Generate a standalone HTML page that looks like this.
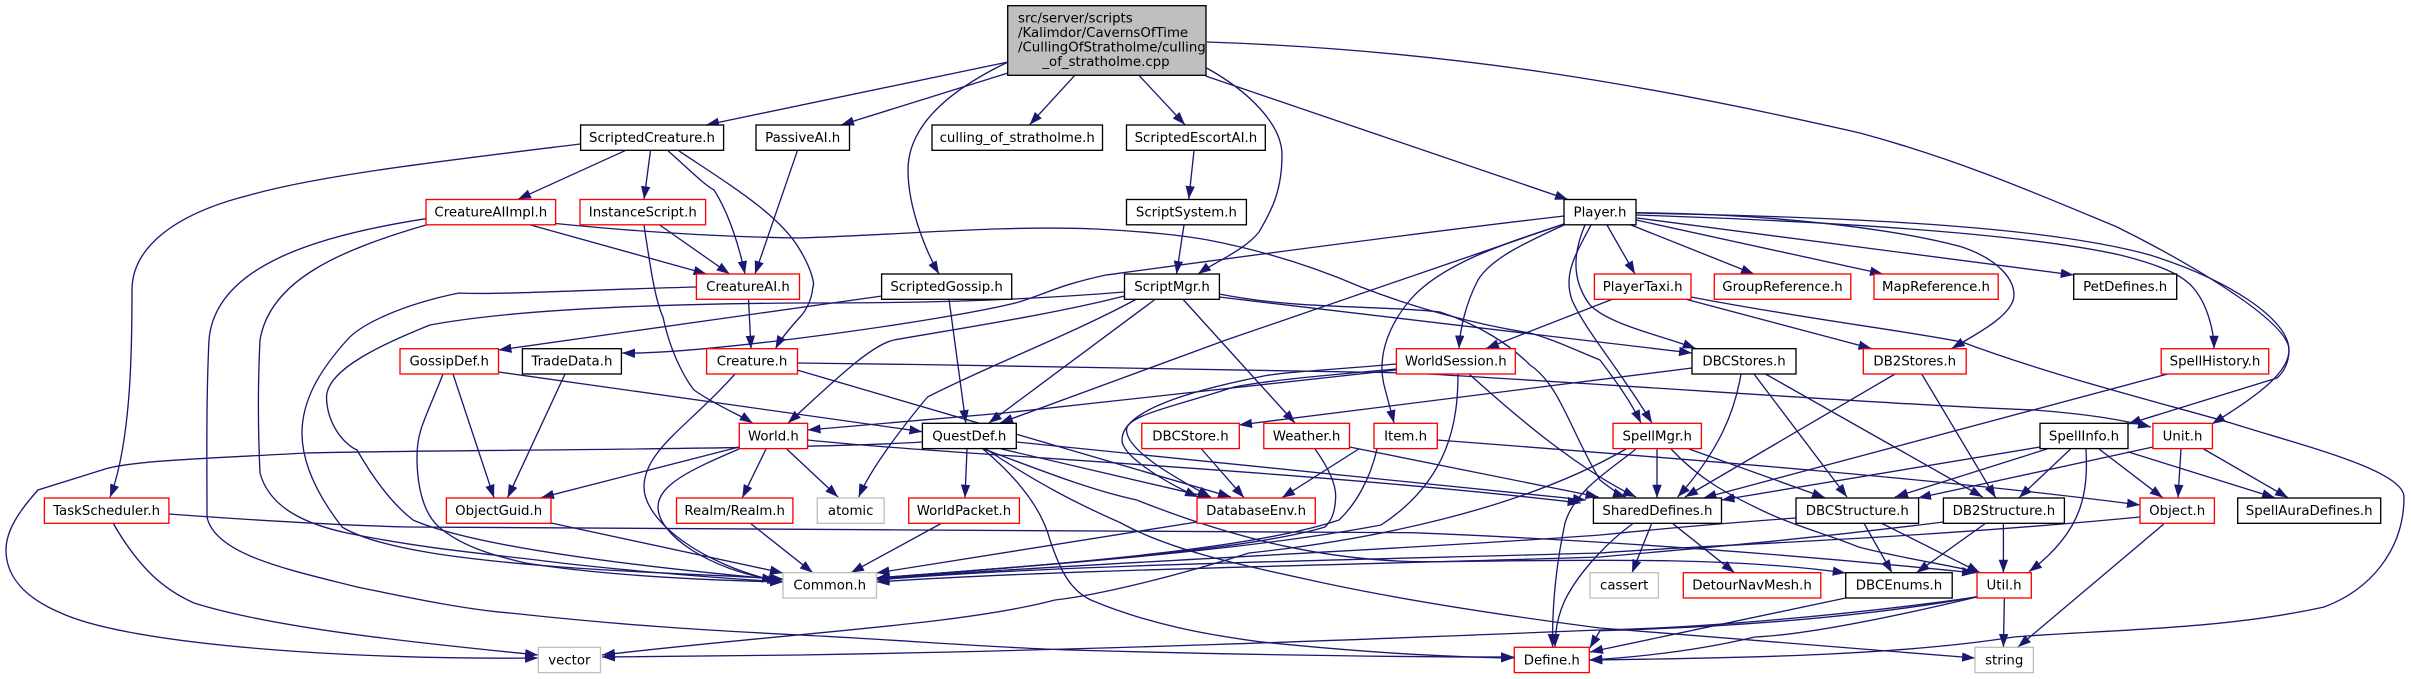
<!DOCTYPE html>
<html><head><meta charset="utf-8"><style>
html,body{margin:0;padding:0;background:#fff}
svg{display:block}
.e path{fill:none;stroke:#191970;stroke-width:1.33;marker-end:url(#a)}
rect{fill:#fff;stroke-width:1.33}
.b rect{stroke:#000}.r rect{stroke:#f00}.g rect{stroke:#bfbfbf}
text{font-family:"DejaVu Sans","Liberation Sans",sans-serif;font-size:13.33px;fill:#000;text-anchor:middle}
</style></head><body>
<svg width="2411" height="679" viewBox="0 0 2411 679" xmlns="http://www.w3.org/2000/svg">
<defs><marker id="a" markerUnits="userSpaceOnUse" markerWidth="14" markerHeight="11" refX="13" refY="5" orient="auto"><polygon points="0,0.3 13,5 0,9.7" fill="#191970"/></marker></defs>
<g class="e">
<path d="M1008,62L706,125"/>
<path d="M1008,73L841,125"/>
<path d="M1074.5,75.7L1029.6,124.7"/>
<path d="M1139.3,75.7L1185,124.7"/>
<path d="M1206.6,68C1250,92 1282,125 1282,155C1282,190 1272,210 1259,232C1245,250 1215,262 1198,274"/>
<path d="M1008,62C960,85 908,120 908,170C908,210 928,255 939,274"/>
<path d="M1205.6,76L1568,199.5"/>
<path d="M1207,42C1450,50 1650,85 1860,133C1960,160 2040,195 2117,227C2180,258 2289,320 2289,350C2289,362 2284,372 2277,378L2128,424"/>
<path d="M1636,213C1900,218 2060,230 2150,255C2230,280 2289,320 2289,350C2289,375 2250,400 2212,424"/>
<path d="M1636,215C1850,222 2030,235 2120,255C2160,265 2184,275 2195,290C2207,305 2214,330 2214,348.7"/>
<path d="M1631,225L1754,274"/>
<path d="M1636,220L1883,274"/>
<path d="M1637,218L2073.7,275"/>
<path d="M1607,225L1635,274"/>
<path d="M1636,212.7C1780,214 1900,230 1962,247C2000,260 2014,280 2014,295C2014,315 1975,335 1951.7,348.5"/>
<path d="M1564,224L1226,340L1000,423"/>
<path d="M1564,224C1500,245 1440,265 1410,300C1385,330 1378,360 1384,385C1388,400 1392,415 1394,423"/>
<path d="M1564,225C1520,245 1490,260 1478,280C1465,305 1460,330 1459,348.5"/>
<path d="M1591,225C1575,255 1563,275 1572,300C1585,330 1620,370 1652,423"/>
<path d="M1585,225C1570,260 1575,285 1590,305C1610,325 1660,335 1695.7,348.5"/>
<path d="M1685,299L1871.5,348.5"/>
<path d="M1691,297C1800,318 1900,330 1962,342C2050,375 2150,400 2231,423C2300,445 2404,470 2404,497C2404,550 2370,590 2324,607C2220,630 2100,630 2014,637C1900,655 1750,658 1589.3,660"/>
<path d="M1613,299L1486,348.5"/>
<path d="M1564,216C1400,235 1180,265 1106,275C1060,285 1050,292 1019,302C950,320 700,355 622,353"/>
<path d="M882,296L498.5,350"/>
<path d="M1124.5,292C1000,302 900,303 800,303C650,304 510,310 430,325C380,345 327,370 326.5,397C327,425 345,445 357,450C380,490 400,510 413,520C470,545 620,565 783,580"/>
<path d="M1124.5,296C1050,315 950,330 894,340C870,345 830,385 788,423"/>
<path d="M1136.7,299C1070,335 990,365 927.5,397C900,430 870,470 858.7,497"/>
<path d="M1155.6,299L988.8,423"/>
<path d="M1182.7,299L1295,423"/>
<path d="M1219,294C1300,310 1380,305 1440,312C1480,325 1510,345 1530,365C1560,385 1570,430 1600,480C1610,488 1620,495 1626,497"/>
<path d="M1219,297L1692,353"/>
<path d="M1184,225L1176.5,274"/>
<path d="M1194,150.7L1188.8,199"/>
<path d="M1692,368L1239,425"/>
<path d="M1741,374C1735,410 1720,450 1677.6,497"/>
<path d="M1754,374L1847,497"/>
<path d="M1765.5,374L1982.7,497"/>
<path d="M1895,374L1685,497"/>
<path d="M1921.7,374L1995.6,497.7"/>
<path d="M2171.5,373L1703.4,498"/>
<path d="M2040,447L1721.5,500"/>
<path d="M2047,449L1895,497"/>
<path d="M2070.6,449L2019,497.7"/>
<path d="M2099,449L2162.7,497.7"/>
<path d="M2127.5,451.7L2275,497.7"/>
<path d="M2086,449C2088,490 2085,530 2029,571.7"/>
<path d="M2153,447L1918,498"/>
<path d="M2181,449L2178,497.7"/>
<path d="M2203.6,449L2288,497.7"/>
<path d="M2140,517C1900,540 1700,545 1600,553C1350,560 1050,565 876.5,580"/>
<path d="M2163.8,524L2018,647"/>
<path d="M1657,449L1657,497.7"/>
<path d="M1689,449L1825,497.7"/>
<path d="M1671,449C1700,480 1730,495 1755,507C1790,525 1830,535 1858.6,547C1900,558 1950,565 1980,572.7"/>
<path d="M1636,449C1610,470 1575,490 1565,523C1555,570 1552,610 1552.6,647"/>
<path d="M1626,449C1520,510 1370,540 1249,553C1180,575 1100,595 1055,600C960,625 800,632 602,655"/>
<path d="M1468,373C1520,420 1580,470 1636,497"/>
<path d="M1016.3,442L1586,500"/>
<path d="M807.6,440C950,455 1300,470 1580.6,503"/>
<path d="M1349.5,447L1598.5,497"/>
<path d="M1001.5,449L1210.7,497.7"/>
<path d="M498.5,372L922.4,431.7"/>
<path d="M949,299.3L965.8,423"/>
<path d="M797,370L1231,497"/>
<path d="M797,363C1000,365 1200,370 1412,373C1700,390 1900,405 2034,410C2100,415 2130,422 2151,427"/>
<path d="M735,374C690,425 644,450 644,487C644,520 700,565 780.6,582"/>
<path d="M739,447L541,497.7"/>
<path d="M739,449C690,470 658,485 658,507C658,535 710,570 775,580"/>
<path d="M766,449L742.3,497.7"/>
<path d="M922,442C800,450 400,450 306,453C220,458 130,460 102,470C70,480 38,490 38,490C20,510 6,530 6,550C6,580 30,600 61,613C130,645 350,660 538,658"/>
<path d="M786.7,449L838,497"/>
<path d="M113,523C140,570 165,590 194,603C280,630 440,645 538,655"/>
<path d="M169,514C250,520 330,525 408,527C650,530 1200,530 1412,532.7C1600,540 1800,555 1975,573"/>
<path d="M983.7,449C1040,470 1090,490 1136.7,500C1250,545 1340,561 1422.5,561.7C1550,561 1720,555 1845.7,573"/>
<path d="M983,449C1020,480 1042,510 1050,540C1060,570 1070,590 1090.8,600C1150,625 1210,635 1259,641.7C1340,650 1430,657 1514,658"/>
<path d="M986,449C1040,485 1080,505 1121,523C1170,550 1240,565 1310,580C1400,600 1500,615 1600,628C1750,640 1870,650 1975,658"/>
<path d="M967,449L965,497.7"/>
<path d="M1396,364C1330,370 1280,372 1259,377C1170,395 1122,415 1122,440C1122,455 1160,480 1198,497"/>
<path d="M1396,369C1330,375 1270,380 1234,387C1180,405 1126,415 1126.5,430C1127,450 1170,475 1210.7,497"/>
<path d="M1396,370L1004,413L807.6,430"/>
<path d="M1458,374C1458,420 1450,480 1381,525C1250,550 1050,565 876.5,578"/>
<path d="M1315,449C1330,470 1336,485 1335.7,497C1335,515 1330,522 1325,527C1250,550 1050,565 876.5,578"/>
<path d="M1358.7,449L1282,497.7"/>
<path d="M1377,449C1370,480 1355,505 1339,520C1250,550 1050,565 876.5,578"/>
<path d="M1437,440C1700,460 1950,480 2140,505"/>
<path d="M1201.5,449L1244,497.7"/>
<path d="M1197,522L876.5,573"/>
<path d="M942,523L851,572.7"/>
<path d="M750,523L812.8,572.7"/>
<path d="M551,523L783,573"/>
<path d="M453,374L494,497.7"/>
<path d="M443,374C425,420 417,430 417,457C417,490 425,515 439,527C460,545 490,555 525.5,563C600,575 700,580 783,582"/>
<path d="M565,374L507.6,497.7"/>
<path d="M696,287C580,290 500,295 459,293C400,305 360,325 347,340C320,370 302,400 302,433C302,470 325,505 342,527C380,550 470,560 561,567C640,573 720,575 783,579"/>
<path d="M748.5,299.3L751,348.7"/>
<path d="M678.6,150.7C730,185 780,215 800,250C812,270 815,285 812.8,287C812,300 805,312 800,317C790,328 780,340 775.5,348.7"/>
<path d="M668,150.7C695,175 705,185 714,190C730,215 740,250 745,274"/>
<path d="M650.5,150.7L644,199.3"/>
<path d="M625,150.7L518,199.3"/>
<path d="M580.6,144C450,160 320,175 250,195C170,215 132,250 132,290C132,340 132,440 110,497.3"/>
<path d="M797.4,150.7L755,274"/>
<path d="M530.6,225L706.6,274"/>
<path d="M659.7,225L729.6,274"/>
<path d="M644,225C650,265 655,300 663,317C672,360 690,385 694,390C715,405 740,415 752.6,423"/>
<path d="M426,225C340,250 270,280 260,340C258,380 258,430 260,473C270,510 310,525 347,533C430,550 500,555 561,563C640,572 720,578 783,582"/>
<path d="M426,218.7C320,235 215,265 209,340C206,400 207,470 207,517C215,555 290,570 357,587C420,600 470,610 510,613C620,625 700,630 800,635C900,640 1000,648 1070,650C1250,655 1400,657 1514,657"/>
<path d="M555.6,223.5C640,232 720,237 800,238C900,235 1000,225 1096,229C1150,232 1180,235 1208,240C1260,250 1310,265 1361,287C1420,310 1480,325 1530,333C1555,340 1575,350 1600,360C1615,380 1630,400 1641,423"/>
<path d="M1651.7,523.3L1632,572.7"/>
<path d="M1672.4,523.3L1734.5,572.7"/>
<path d="M1633.6,523C1610,540 1580,570 1565,600C1558,615 1555,630 1555,647"/>
<path d="M1796,518C1700,525 1650,530 1600,535C1400,550 1050,565 876.5,579"/>
<path d="M1943.4,522C1800,540 1700,548 1600,557C1350,565 1050,570 876.5,582"/>
<path d="M1863.8,523L1892,572.7"/>
<path d="M1881,523L1980,572.7"/>
<path d="M1986,523L1916.5,572.7"/>
<path d="M2003.4,523L2003.4,572.7"/>
<path d="M2004.4,598L2003.4,647"/>
<path d="M1977,596.7C1850,620 1700,628 1600,630.7L1589.8,648"/>
<path d="M1977,597C1850,615 1700,628 1600,630C1350,640 1100,650 800,655L602,657"/>
<path d="M1977,597C1880,620 1800,635 1755,637C1700,650 1640,657 1589.3,660"/>
<path d="M1845.7,598L1590,652"/>
</g>
<g class="b"><rect x="580.6" y="125" width="143" height="25.3"/><text x="652" y="142">ScriptedCreature.h</text></g>
<g class="b"><rect x="756" y="125" width="93.5" height="25.3"/><text x="802.7" y="142">PassiveAI.h</text></g>
<g class="b"><rect x="932" y="125" width="170.5" height="25.3"/><text x="1017.2" y="142">culling_of_stratholme.h</text></g>
<g class="b"><rect x="1126.5" y="125" width="138.8" height="25.3"/><text x="1195.9" y="142">ScriptedEscortAI.h</text></g>
<g class="r"><rect x="426" y="199.5" width="129.6" height="25.3"/><text x="490.8" y="216.5">CreatureAIImpl.h</text></g>
<g class="r"><rect x="580" y="199.5" width="125.6" height="25.3"/><text x="642.8" y="216.5">InstanceScript.h</text></g>
<g class="b"><rect x="1126.5" y="199.5" width="119.9" height="25.3"/><text x="1186.4" y="216.5">ScriptSystem.h</text></g>
<g class="b"><rect x="1564" y="199.5" width="72" height="25.3"/><text x="1600" y="216.5">Player.h</text></g>
<g class="r"><rect x="696.4" y="274" width="103.1" height="25.3"/><text x="748" y="291">CreatureAI.h</text></g>
<g class="b"><rect x="881.6" y="274" width="130.1" height="25.3"/><text x="946.6" y="291">ScriptedGossip.h</text></g>
<g class="b"><rect x="1124.5" y="274" width="94.9" height="25.3"/><text x="1172" y="291">ScriptMgr.h</text></g>
<g class="r"><rect x="1594.4" y="274" width="96.6" height="25.3"/><text x="1642.7" y="291">PlayerTaxi.h</text></g>
<g class="r"><rect x="1714.3" y="274" width="136.5" height="25.3"/><text x="1782.5" y="291">GroupReference.h</text></g>
<g class="r"><rect x="1874" y="274" width="124.2" height="25.3"/><text x="1936" y="291">MapReference.h</text></g>
<g class="b"><rect x="2073.7" y="274" width="103" height="25.3"/><text x="2125.2" y="291">PetDefines.h</text></g>
<g class="r"><rect x="400" y="348.7" width="98.5" height="25.3"/><text x="449.2" y="365.7">GossipDef.h</text></g>
<g class="b"><rect x="522.4" y="348.7" width="99" height="25.3"/><text x="571.9" y="365.7">TradeData.h</text></g>
<g class="r"><rect x="706.6" y="348.7" width="90.9" height="25.3"/><text x="752" y="365.7">Creature.h</text></g>
<g class="r"><rect x="1396.4" y="348.7" width="118.9" height="25.3"/><text x="1455.8" y="365.7">WorldSession.h</text></g>
<g class="b"><rect x="1692" y="348.7" width="104" height="25.3"/><text x="1744" y="365.7">DBCStores.h</text></g>
<g class="r"><rect x="1863.3" y="348.7" width="102.9" height="25.3"/><text x="1914.7" y="365.7">DB2Stores.h</text></g>
<g class="r"><rect x="2161.2" y="348.7" width="107.5" height="25.3"/><text x="2215" y="365.7">SpellHistory.h</text></g>
<g class="r"><rect x="739.3" y="423.3" width="68.3" height="25.3"/><text x="773.4" y="440.3">World.h</text></g>
<g class="b"><rect x="922.4" y="423.3" width="93.9" height="25.3"/><text x="969.3" y="440.3">QuestDef.h</text></g>
<g class="r"><rect x="1141.8" y="423.3" width="97.5" height="25.3"/><text x="1190.5" y="440.3">DBCStore.h</text></g>
<g class="r"><rect x="1263.8" y="423.3" width="85.7" height="25.3"/><text x="1306.6" y="440.3">Weather.h</text></g>
<g class="r"><rect x="1374" y="423.3" width="63.3" height="25.3"/><text x="1405.6" y="440.3">Item.h</text></g>
<g class="r"><rect x="1613" y="423.3" width="88.4" height="25.3"/><text x="1657.2" y="440.3">SpellMgr.h</text></g>
<g class="b"><rect x="2040" y="423.3" width="88" height="25.3"/><text x="2084" y="440.3">SpellInfo.h</text></g>
<g class="r"><rect x="2152.9" y="423.3" width="59.5" height="25.3"/><text x="2182.6" y="440.3">Unit.h</text></g>
<g class="r"><rect x="44.4" y="498" width="124.5" height="25.3"/><text x="106.6" y="515">TaskScheduler.h</text></g>
<g class="r"><rect x="446.4" y="498" width="104.6" height="25.3"/><text x="498.7" y="515">ObjectGuid.h</text></g>
<g class="r"><rect x="676.5" y="498" width="116.4" height="25.3"/><text x="734.7" y="515">Realm/Realm.h</text></g>
<g class="g"><rect x="817.3" y="498" width="66.9" height="25.3"/><text x="850.7" y="515">atomic</text></g>
<g class="r"><rect x="908.7" y="498" width="110.7" height="25.3"/><text x="964" y="515">WorldPacket.h</text></g>
<g class="r"><rect x="1197" y="498" width="118.3" height="25.3"/><text x="1256.1" y="515">DatabaseEnv.h</text></g>
<g class="b"><rect x="1593.4" y="498" width="128.1" height="25.3"/><text x="1657.4" y="515">SharedDefines.h</text></g>
<g class="b"><rect x="1796" y="498" width="122.6" height="25.3"/><text x="1857.3" y="515">DBCStructure.h</text></g>
<g class="b"><rect x="1943.4" y="498" width="121" height="25.3"/><text x="2003.9" y="515">DB2Structure.h</text></g>
<g class="r"><rect x="2140" y="498" width="74.4" height="25.3"/><text x="2177.2" y="515">Object.h</text></g>
<g class="b"><rect x="2237.7" y="498" width="143" height="25.3"/><text x="2309.2" y="515">SpellAuraDefines.h</text></g>
<g class="g"><rect x="783" y="572.7" width="93.5" height="25.3"/><text x="829.7" y="589.7">Common.h</text></g>
<g class="g"><rect x="1590" y="572.7" width="68.4" height="25.3"/><text x="1624.2" y="589.7">cassert</text></g>
<g class="r"><rect x="1683.3" y="572.7" width="137.5" height="25.3"/><text x="1752" y="589.7">DetourNavMesh.h</text></g>
<g class="b"><rect x="1845.7" y="572.7" width="106.5" height="25.3"/><text x="1899" y="589.7">DBCEnums.h</text></g>
<g class="r"><rect x="1977" y="572.7" width="54.3" height="25.3"/><text x="2004.1" y="589.7">Util.h</text></g>
<g class="g"><rect x="538.3" y="647.3" width="62.2" height="25.3"/><text x="569.4" y="664.3">vector</text></g>
<g class="r"><rect x="1514.3" y="647.3" width="75" height="25.3"/><text x="1551.8" y="664.3">Define.h</text></g>
<g class="g"><rect x="1975" y="647.3" width="58.4" height="25.3"/><text x="2004.2" y="664.3">string</text></g>
<g class="b"><rect x="1007.7" y="5.7" width="198.3" height="69.6" style="fill:#bfbfbf"/>
<text x="1018" y="22.3" style="text-anchor:start">src/server/scripts</text>
<text x="1018" y="36.8" style="text-anchor:start">/Kalimdor/CavernsOfTime</text>
<text x="1018" y="51.3" style="text-anchor:start">/CullingOfStratholme/culling</text>
<text x="1106" y="65.8">_of_stratholme.cpp</text></g>
</svg>
</body></html>
